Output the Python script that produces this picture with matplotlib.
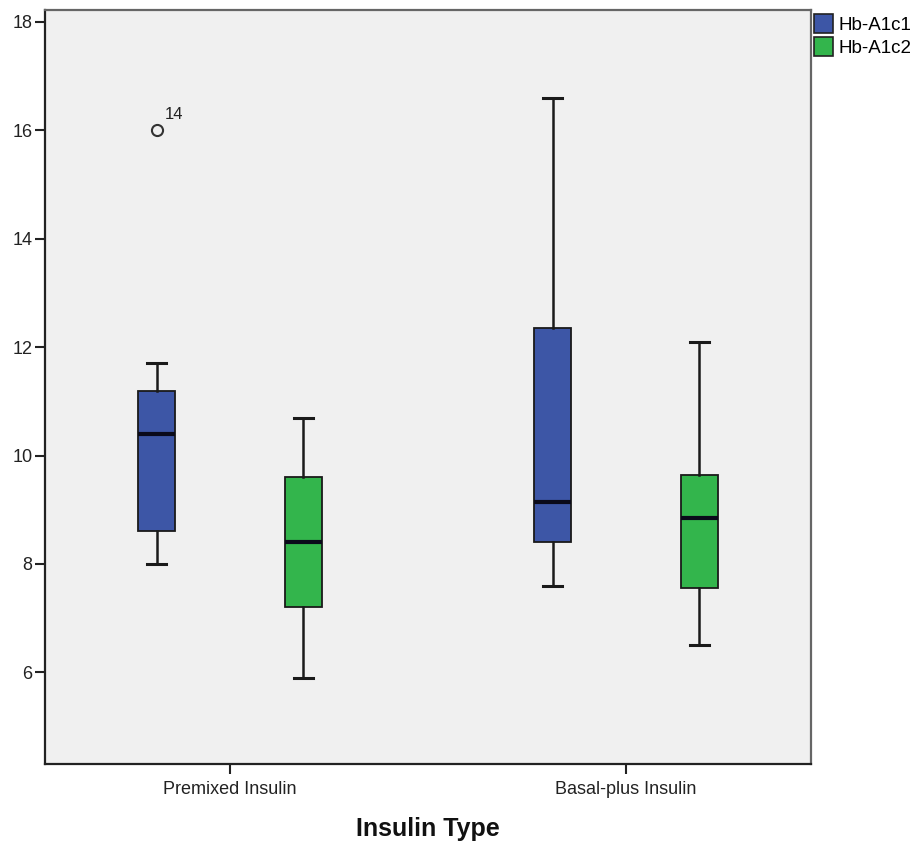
import matplotlib
matplotlib.use("Agg")
import matplotlib.pyplot as plt
from matplotlib.patches import Patch

plt.rcParams['font.family'] = ['Liberation Sans', 'DejaVu Sans']

categories = ["Premixed Insulin", "Basal-plus Insulin"]
series = ["Hb-A1c1", "Hb-A1c2"]
colors = ["#3D56A6", "#33B54C"]

# five-number summaries per series, per category
whislo = {"Hb-A1c1": [8.0, 7.6], "Hb-A1c2": [5.9, 6.5]}
q1 = {"Hb-A1c1": [8.6, 8.4], "Hb-A1c2": [7.2, 7.55]}
med = {"Hb-A1c1": [10.4, 9.15], "Hb-A1c2": [8.4, 8.85]}
q3 = {"Hb-A1c1": [11.2, 12.35], "Hb-A1c2": [9.6, 9.65]}
whishi = {"Hb-A1c1": [11.7, 16.6], "Hb-A1c2": [10.7, 12.1]}
fliers = {"Hb-A1c1": [[16.0], []], "Hb-A1c2": [[], []]}
flier_labels = {"Hb-A1c1": [["14"], []], "Hb-A1c2": [[], []]}

yticks = [6, 8, 10, 12, 14, 16, 18]

fig = plt.figure(figsize=(9.21, 8.43), dpi=100)
ax = fig.add_axes([0.0489, 0.0937, 0.8317, 0.8944])
ax.set_facecolor("#F0F0F0")

offset = 0.185
width = 0.094
for si, s in enumerate(series):
    off = -offset if si == 0 else offset
    stats = []
    pos = []
    for ci in range(len(categories)):
        stats.append(dict(whislo=whislo[s][ci], q1=q1[s][ci], med=med[s][ci],
                          q3=q3[s][ci], whishi=whishi[s][ci], fliers=fliers[s][ci]))
        pos.append(ci + off)
    ax.bxp(stats, positions=pos, widths=width, patch_artist=True, manage_ticks=False,
           boxprops=dict(facecolor=colors[si], edgecolor="#1a1a1a", linewidth=1.3),
           medianprops=dict(color="#0a0a1a", linewidth=3),
           whiskerprops=dict(color="#1a1a1a", linewidth=1.8),
           capprops=dict(color="#1a1a1a", linewidth=2.2),
           capwidths=0.048,
           flierprops=dict(marker="o", markerfacecolor="none", markeredgecolor="#333333",
                           markersize=8, markeredgewidth=1.5))
    for ci in range(len(categories)):
        for v, lab in zip(fliers[s][ci], flier_labels[s][ci]):
            ax.annotate(lab, (ci + off, v), xytext=(6, 6), textcoords="offset points",
                        fontsize=12, color="#222222", ha="left", va="bottom")

ax.set_xlim(-0.467, 1.467)
ax.set_ylim(4.31, 18.22)
ax.set_yticks(yticks)
ax.set_yticklabels([str(t) for t in yticks], fontsize=13, color="#222222")
ax.set_xticks(range(len(categories)))
ax.set_xticklabels(categories, fontsize=13, color="#222222")
ax.tick_params(axis="y", direction="out", length=7, width=1.5, color="#222222", pad=2)
ax.tick_params(axis="x", direction="out", length=7, width=1.5, color="#222222", pad=5)
for side in ["left", "bottom"]:
    ax.spines[side].set_color("#222222")
    ax.spines[side].set_linewidth(1.6)
for side in ["top", "right"]:
    ax.spines[side].set_color("#666666")
    ax.spines[side].set_linewidth(1.6)

ax.set_xlabel("Insulin Type", fontsize=18, fontweight="bold", color="#111111", labelpad=14)

handles = [Patch(facecolor=c, edgecolor="#222222", linewidth=1.2) for c in colors]
fig.legend(handles, series, loc="upper left", bbox_to_anchor=(0.880, 0.988), frameon=False,
           fontsize=13.5, handlelength=1.0, handleheight=1.2, handletextpad=0.3,
           labelspacing=0.15, borderaxespad=0.0, borderpad=0.2)

fig.savefig("out.png", dpi=100, facecolor="white")
